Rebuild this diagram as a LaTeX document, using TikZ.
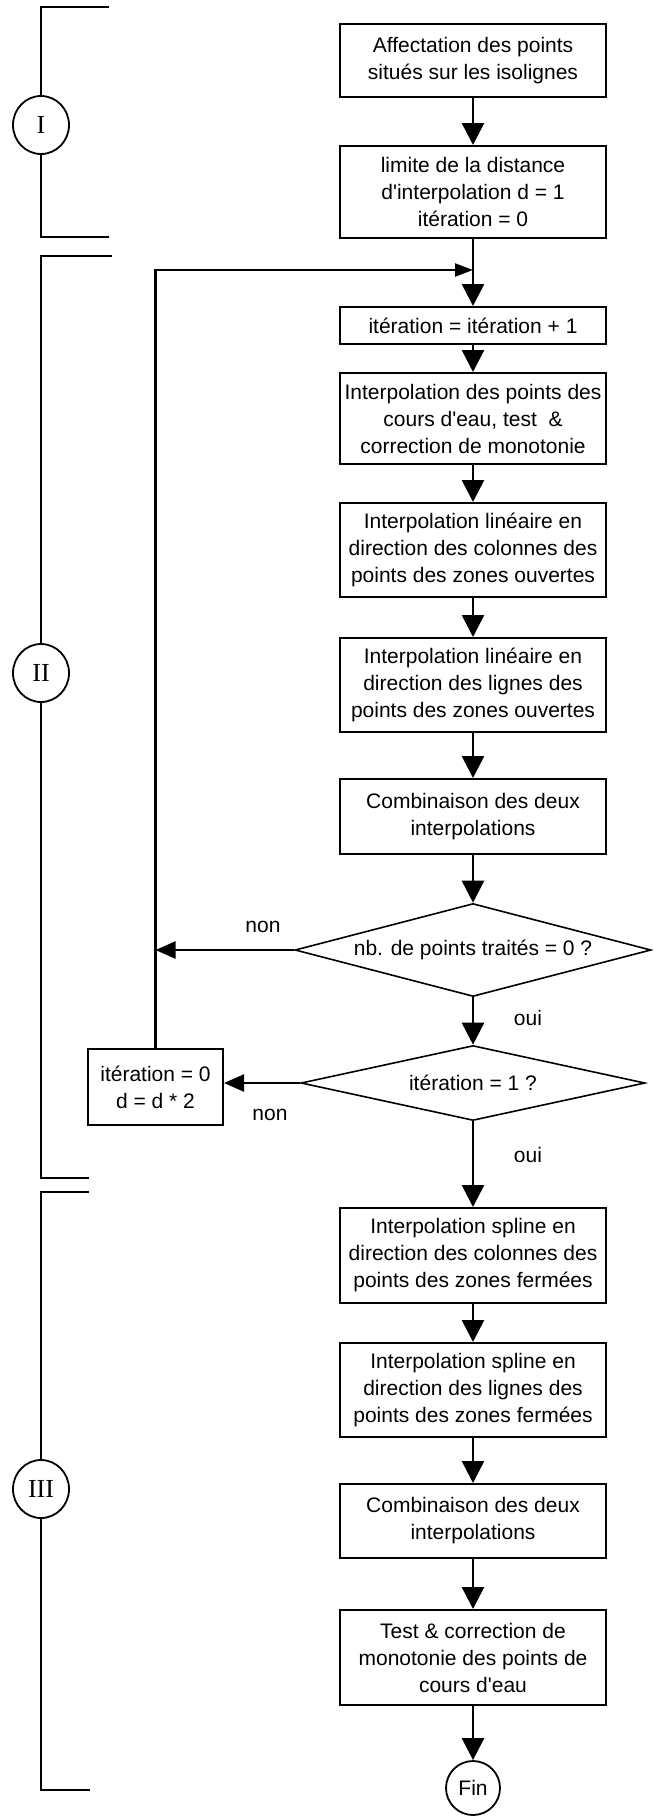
\documentclass[tikz,border=0pt]{standalone}
\usepackage{fontspec}
\setmainfont{Liberation Sans}
\newfontfamily\romfont{Liberation Serif}
\usetikzlibrary{
    shapes.geometric,
    arrows.meta,
    positioning,
    calc
}

\begin{document}
\begin{tikzpicture}[
        x=0.5pt, y=-0.5pt,
        font=\fontsize{10.5}{13.5}\selectfont,
        stepbox/.style={draw, line width=1pt, minimum width=133pt, align=center, inner sep=1pt},
        test/.style={draw, diamond, line width=0.8pt, inner sep=0pt, aspect=3.8, align=center},
        arrow/.style={line width=1.3pt, -{Triangle[length=11pt, width=11pt]}},
        sidearrow/.style={line width=1.1pt, -{Triangle[length=10pt, width=8.5pt]}},
        looparrow/.style={line width=1.1pt, -{Triangle[length=9pt, width=6.5pt]}},
        phase/.style={draw, ellipse, fill=white, line width=0.9pt, minimum width=28pt, minimum height=29pt, inner sep=0pt, font=\romfont\fontsize{13}{15}\selectfont},
        bracket/.style={line width=1.1pt}
    ]
        \useasboundingbox (0, 0) rectangle (662, 1816);

        % Phase I
        \node[stepbox, minimum height=36.5pt] (assign) at (473, 60.5) {Affectation des points\\situés sur les isolignes};
        \node[stepbox, minimum height=46pt] (init) at (473, 192) {limite de la distance\\d\textquotesingle interpolation d = 1\\itération = 0};

        % Phase II
        \node[stepbox, minimum height=18.5pt] (incr) at (473, 325.5) {itération = itération + 1};
        \node[stepbox, minimum height=45.5pt] (rivers) at (473, 418.5) {Interpolation des points des\\cours d\textquotesingle eau, test \ \&\\correction de monotonie};
        \node[stepbox, minimum height=47pt] (cols) at (473, 550) {Interpolation linéaire en\\direction des colonnes des\\points des zones ouvertes};
        \node[stepbox, minimum height=47pt] (rows) at (473, 685) {Interpolation linéaire en\\direction des lignes des\\points des zones ouvertes};
        \node[stepbox, minimum height=37.5pt] (comb) at (473, 816.5) {Combinaison des deux\\interpolations};
        \node[test, minimum width=178pt, minimum height=46.5pt] (count) at (473, 950) {nb. de points traités = 0 ?};
        \node[test, minimum width=172pt, minimum height=37.5pt] (first) at (473, 1083) {itération = 1 ?};
        \node[stepbox, minimum width=67.5pt, minimum height=38pt] (reset) at (155.5, 1087) {itération = 0\\d = d * 2};
        \coordinate (merge) at (473, 270);

        % Phase III
        \node[stepbox, minimum height=47.5pt] (scols) at (473, 1255.5) {Interpolation spline en\\direction des colonnes des\\points des zones fermées};
        \node[stepbox, minimum height=47pt] (srows) at (473, 1390) {Interpolation spline en\\direction des lignes des\\points des zones fermées};
        \node[stepbox, minimum height=37pt] (scomb) at (473, 1521) {Combinaison des deux\\interpolations};
        \node[stepbox, minimum height=47.5pt] (final) at (473, 1657.5) {Test \& correction de\\monotonie des points de\\cours d\textquotesingle eau};
        \node[draw, circle, line width=0.9pt, minimum size=27pt, inner sep=0pt] (fin) at (473, 1788) {Fin};

        % Main flow
        \draw[arrow] (assign) -- (init);
        \draw[arrow] (init) -- (incr);
        \draw[arrow] (incr) -- (rivers);
        \draw[arrow] (rivers) -- (cols);
        \draw[arrow] (cols) -- (rows);
        \draw[arrow] (rows) -- (comb);
        \draw[arrow] (comb) -- (count);
        \draw[arrow] (count) -- (first);
        \draw[arrow] (first) -- (scols);
        \draw[arrow] (scols) -- (srows);
        \draw[arrow] (srows) -- (scomb);
        \draw[arrow] (scomb) -- (final);
        \draw[arrow] (final) -- (fin);

        % Loop back
        \draw[sidearrow] (count.west) -- (count.west -| reset.north);
        \draw[sidearrow] (first.west) -- (first.west -| reset.east);
        \draw[looparrow] (reset.north) |- (merge);

        % Branch labels
        \node (no1) at (263, 927) {non};
        \node (yes1) at (528, 1018) {oui};
        \node (no2) at (270, 1115) {non};
        \node (yes2) at (528, 1155) {oui};

        % Phase brackets
        \draw[bracket] (109, 7) -- (41, 7) -- (41, 237) -- (109, 237);
        \draw[bracket] (112, 256) -- (41, 256) -- (41, 1178) -- (89, 1178);
        \draw[bracket] (89, 1192) -- (41, 1192) -- (41, 1790) -- (90, 1790);
        \node[phase] (p1) at (41, 125) {I};
        \node[phase] (p2) at (41, 673) {II};
        \node[phase] (p3) at (41, 1489) {III};
    \end{tikzpicture}
\end{document}
